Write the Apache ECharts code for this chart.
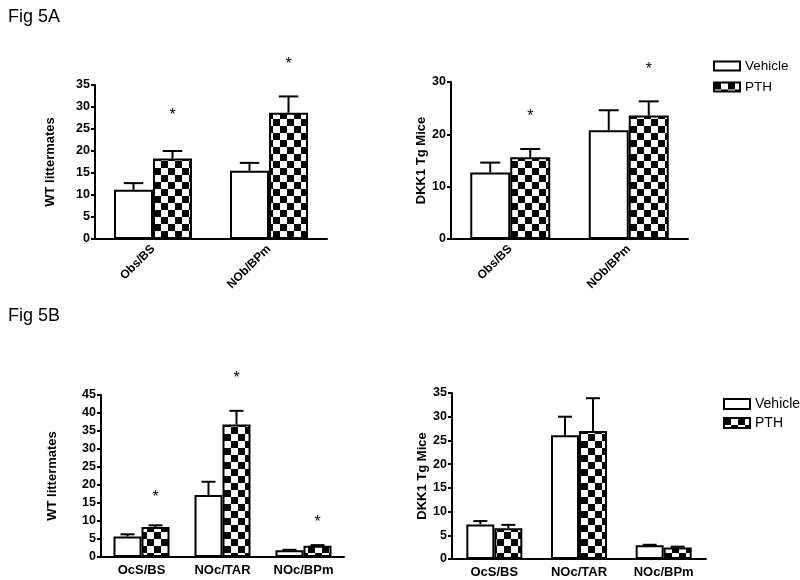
<!DOCTYPE html>
<html>
<head>
<meta charset="utf-8">
<script src="https://cdn.jsdelivr.net/npm/echarts@6/dist/echarts.min.js"></script>
<style>html,body{margin:0;padding:0;background:#fff}#c{width:800px;height:580px}</style>
</head>
<body>
<div id="c"></div>
<script>
// ---- data ----
const catsA = ['Obs/BS', 'NOb/BPm'];
const catsB = ['OcS/BS', 'NOc/TAR', 'NOc/BPm'];

const tlVehicle = [11.2, 15.5];
const tlVehicleErr = [12.7, 17.3];
const tlPTH = [18.3, 28.7];
const tlPTHErr = [20.0, 32.4];
const tlStars = [29.0, 40.5];

const trVehicle = [12.7, 20.8];
const trVehicleErr = [14.6, 24.6];
const trPTH = [15.6, 23.6];
const trPTHErr = [17.2, 26.3];
const trStars = [24.1, 33.2];

const blVehicle = [5.7, 17.2, 1.9];
const blVehicleErr = [6.3, 20.9, 2.0];
const blPTH = [8.3, 36.8, 3.1];
const blPTHErr = [8.8, 40.6, 3.3];
const blStars = [17.5, 50.7, 10.6];

const brVehicle = [7.3, 26.1, 2.9];
const brVehicleErr = [8.0, 30.0, 3.0];
const brPTH = [6.5, 27.0, 2.4];
const brPTHErr = [7.2, 33.9, 2.6];

const yNameA = ['WT littermates', 'DKK1 Tg Mice'];
const legendNames = ['Vehicle', 'PTH'];
const figTitles = ['Fig 5A', 'Fig 5B'];

// ---- pattern ----
function checker(size) {
  const c = document.createElement('canvas');
  c.width = size * 2; c.height = size * 2;
  const g = c.getContext('2d');
  g.fillStyle = '#fff'; g.fillRect(0, 0, size * 2, size * 2);
  g.fillStyle = '#000';
  g.fillRect(0, 0, size, size);
  g.fillRect(size, size, size, size);
  return { image: c, repeat: 'repeat' };
}
const pat = checker(7);

const FONT = 'Liberation Sans';

function errSeries(gi, vals, errs, barW, side) {
  return {
    type: 'custom', xAxisIndex: gi, yAxisIndex: gi, silent: true, z: 5,
    data: vals.map((v, i) => [i, errs[i], v]),
    encode: { x: 0, y: 1 },
    renderItem: function (params, api) {
      const x = api.value(0);
      const p0 = api.coord([x, api.value(2)]);
      const p1 = api.coord([x, api.value(1)]);
      const cx = p0[0] + side * barW / 2;
      const st = { stroke: '#000', lineWidth: 2 };
      return { type: 'group', children: [
        { type: 'line', shape: { x1: cx, y1: p0[1], x2: cx, y2: p1[1] }, style: st },
        { type: 'line', shape: { x1: cx - barW / 4, y1: p1[1], x2: cx + barW / 4, y2: p1[1] }, style: st }
      ] };
    }
  };
}

function starSeries(gi, stars, barW) {
  return {
    type: 'custom', xAxisIndex: gi, yAxisIndex: gi, silent: true, z: 6,
    data: stars.map((v, i) => [i, v]),
    encode: { x: 0, y: 1 },
    renderItem: function (params, api) {
      const p = api.coord([api.value(0), api.value(1)]);
      return { type: 'text', x: p[0] + barW / 2, y: p[1] + 4,
        style: { text: '*', fontSize: 16, fontFamily: FONT, fill: '#000', align: 'center', verticalAlign: 'middle' } };
    }
  };
}

function barSeries(gi, name, data, barW, isPTH) {
  return {
    type: 'bar', name: name, xAxisIndex: gi, yAxisIndex: gi,
    data: data, barWidth: barW, barGap: '0%',
    itemStyle: { color: isPTH ? pat : '#fff', borderColor: '#000', borderWidth: 2 },
    emphasis: { disabled: true }
  };
}

const grids = [
  { left: 95, top: 85, width: 232, height: 154 },
  { left: 451, top: 82, width: 237, height: 157 },
  { left: 101, top: 395, width: 243, height: 162 },
  { left: 452, top: 393, width: 254, height: 166 }
];
const barWs = [39, 40, 28, 28];

const axisLine = { show: true, lineStyle: { color: '#000', width: 2 } };

const xAxes = [0, 1, 2, 3].map(gi => ({
  type: 'category', gridIndex: gi, data: gi < 2 ? catsA : catsB,
  axisLine: axisLine, axisTick: { show: false },
  axisLabel: gi < 2
    ? { rotate: 45, margin: 8, interval: 0, color: '#000', fontFamily: FONT, fontWeight: 'bold', fontSize: 12 }
    : { margin: 7, interval: 0, color: '#000', fontFamily: FONT, fontWeight: 'bold', fontSize: 13 }
}));

const yCfg = [
  { max: 35, interval: 5, name: yNameA[0], gap: 38 },
  { max: 30, interval: 10, name: yNameA[1], gap: 22 },
  { max: 45, interval: 5, name: yNameA[0], gap: 42 },
  { max: 35, interval: 5, name: yNameA[1], gap: 22 }
];
const yAxes = yCfg.map((c, gi) => ({
  type: 'value', gridIndex: gi, min: 0, max: c.max, interval: c.interval,
  name: c.name, nameLocation: 'middle', nameGap: c.gap,
  nameTextStyle: { color: '#000', fontFamily: FONT, fontWeight: 'bold', fontSize: 13 },
  axisLine: axisLine,
  axisTick: { show: true, length: 4, lineStyle: { color: '#000', width: 2 } },
  splitLine: { show: false },
  axisLabel: { margin: 5, color: '#000', fontFamily: FONT, fontWeight: 'bold', fontSize: 12.5 }
}));

const series = [];
const sets = [
  [tlVehicle, tlVehicleErr, tlPTH, tlPTHErr, tlStars],
  [trVehicle, trVehicleErr, trPTH, trPTHErr, trStars],
  [blVehicle, blVehicleErr, blPTH, blPTHErr, blStars],
  [brVehicle, brVehicleErr, brPTH, brPTHErr, null]
];
sets.forEach((s, gi) => {
  const w = barWs[gi];
  series.push(barSeries(gi, legendNames[0], s[0], w, false));
  series.push(barSeries(gi, legendNames[1], s[2], w, true));
  series.push(errSeries(gi, s[0], s[1], w, -1));
  series.push(errSeries(gi, s[2], s[3], w, 1));
  if (s[4]) series.push(starSeries(gi, s[4], w));
});

const chart = echarts.init(document.getElementById('c'), null, { renderer: 'canvas' });
chart.setOption({
  animation: false,
  backgroundColor: '#fff',
  title: [
    { text: figTitles[0], left: 3, top: 3, textStyle: { fontFamily: FONT, fontWeight: 'normal', fontSize: 18, color: '#000' } },
    { text: figTitles[1], left: 3, top: 302, textStyle: { fontFamily: FONT, fontWeight: 'normal', fontSize: 18, color: '#000' } }
  ],
  legend: [
    { data: legendNames, orient: 'vertical', left: 713, top: 59, padding: 0, icon: 'rect', itemWidth: 26, itemHeight: 9, itemGap: 7,
      textStyle: { fontFamily: FONT, fontSize: 13.5, color: '#000' }, selectedMode: false },
    { data: legendNames, orient: 'vertical', left: 723, top: 397, padding: 0, icon: 'rect', itemWidth: 26, itemHeight: 10, itemGap: 5,
      textStyle: { fontFamily: FONT, fontSize: 14, color: '#000' }, selectedMode: false }
  ],
  grid: grids,
  xAxis: xAxes,
  yAxis: yAxes,
  series: series
});
</script>
</body>
</html>
